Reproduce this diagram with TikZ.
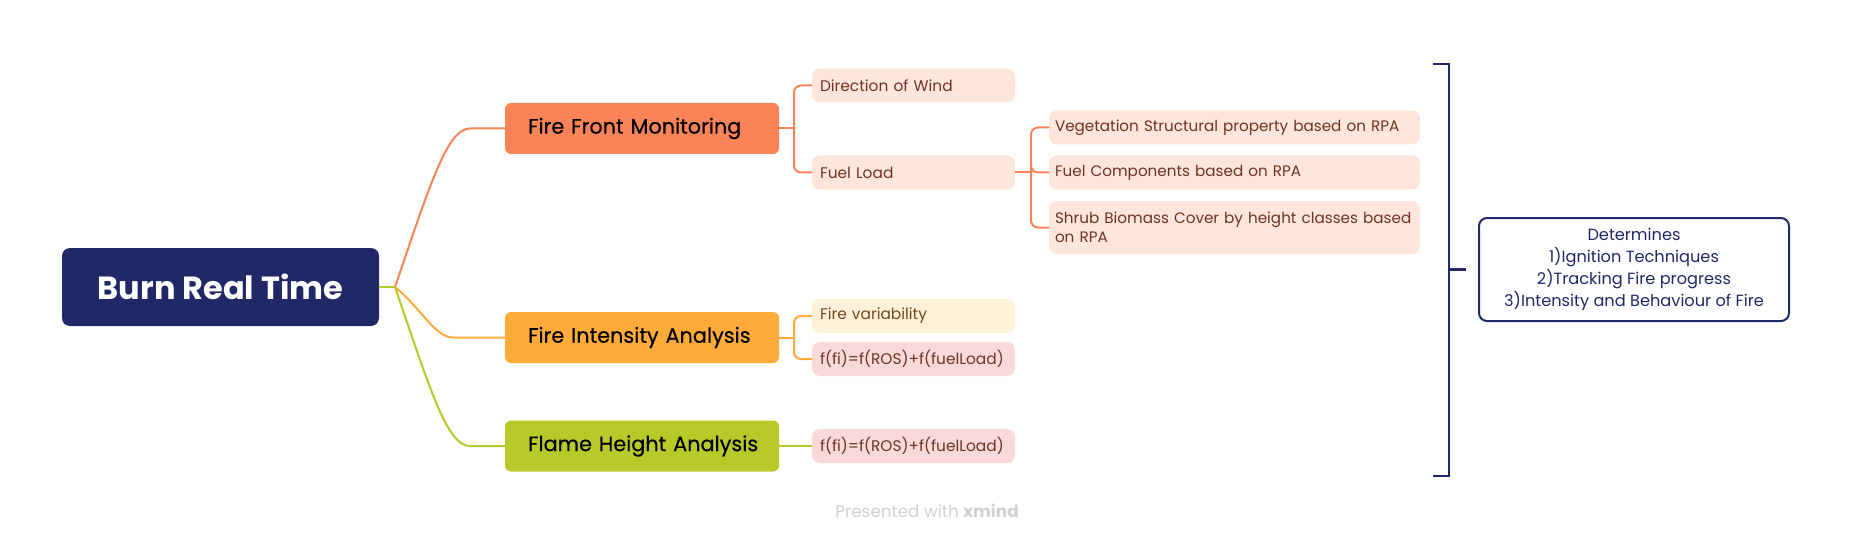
\documentclass[tikz,border=0pt]{standalone}
\usepackage{fontspec}
\setmainfont{Poppins}
\newfontfamily\topicfont{Poppins}[FakeBold=0.35]
\usetikzlibrary{positioning}
\hyphenpenalty=10000

\definecolor{navy}{HTML}{202868}
\definecolor{ffmOrange}{HTML}{FA8357}
\definecolor{fiaOrange}{HTML}{FFAB3A}
\definecolor{fhaGreen}{HTML}{B8C92A}
\definecolor{subPeach}{HTML}{FFE6DC}
\definecolor{subCream}{HTML}{FFF0DA}
\definecolor{subPink}{HTML}{F9D9D9}
\definecolor{subText}{HTML}{6E3323}
\definecolor{creamText}{HTML}{73471A}

\begin{document}
\begin{tikzpicture}[x=0.5pt,y=-0.5pt,
    rootBox/.style={
        fill=navy,
        text=white,
        rounded corners=4pt,
        minimum width=158.5pt,
        minimum height=39pt,
        font=\bfseries\fontsize{16}{19}\selectfont
    },
    topicBox/.style={
        rounded corners=3pt,
        inner xsep=3.5pt,
        text width=130pt,
        align=left,
        minimum height=25.5pt,
        execute at begin node=\hspace*{8pt},
        font=\topicfont\fontsize{10.4}{12}\selectfont
    },
    subBox/.style={
        rounded corners=4pt,
        inner xsep=4pt,
        text width=93.5pt,
        align=left,
        minimum height=17pt,
        text=subText,
        font=\fontsize{7.7}{9.5}\selectfont
    },
    leafBox/.style={
        subBox,
        fill=subPeach,
        inner xsep=3pt,
        text width=179.5pt,
        font=\fontsize{7.6}{9.5}\selectfont
    },
    noteBox/.style={
        draw=navy,
        line width=1pt,
        rounded corners=4pt,
        text=navy,
        align=center,
        minimum width=155pt,
        minimum height=51.5pt,
        font=\fontsize{8.1}{11}\selectfont
    },
    link/.style={
        line width=1pt,
        line cap=round,
        rounded corners=3.5pt
    }
]

\path[use as bounding box] (0,0) rectangle (1853,540);

% central topic and main branches
\node[rootBox] (root) at (220.5,287) {Burn Real Time};
\node[topicBox, fill=ffmOrange] (ffm) at (642,128.5) {Fire Front Monitoring};
\node[topicBox, fill=fiaOrange] (fia) at (642,337.5) {Fire Intensity Analysis};
\node[topicBox, fill=fhaGreen] (fha) at (642,446) {Flame Height Analysis};

% subtopics
\node[subBox, fill=subPeach] (wind) at (913.5,85.5) {Direction of Wind};
\node[subBox, fill=subPeach] (fuel) at (913.5,172.5) {Fuel Load};
\node[leafBox] (veg) at (1234.5,127.5) {Vegetation Structural property based on RPA};
\node[leafBox] (comp) at (1234.5,172.5) {Fuel Components based on RPA};
\node[leafBox, minimum height=26.5pt] (shrub) at (1234.5,227.5)
    {Shrub Biomass Cover by height classes based\\on RPA};
\node[subBox, fill=subCream, text=creamText] (var) at (913.5,316) {Fire variability};
\node[subBox, fill=subPink] (fiA) at (913.5,359) {f(fi)=f(ROS)+f(fuelLoad)};
\node[subBox, fill=subPink] (fiB) at (913.5,446) {f(fi)=f(ROS)+f(fuelLoad)};

% summary
\node[noteBox] (note) at (1634,269.5)
    {Determines\\1)Ignition Techniques\\2)Tracking Fire progress\\3)Intensity and Behaviour of Fire};

\node[text=black!18, font=\fontsize{8.4}{10}\selectfont] (credit) at (927,511)
    {Presented with \textbf{xmind}};

% junctions
\coordinate (hub) at (395,287);
\coordinate (ffmJ) at (794,128.5);
\coordinate (fiaJ) at (794,337.5);
\coordinate (fuelJ) at (1031,172.5);

% root to main topics
\draw[link, fhaGreen] (root.east) -- (hub);
\draw[link, ffmOrange] (hub) .. controls (430,185) and (447,128.5) .. (477,128.5) -- (ffm.west);
\draw[link, fiaOrange] (hub) .. controls (420,307) and (435,337.5) .. (460,337.5) -- (fia.west);
\draw[link, fhaGreen] (hub) .. controls (430,389) and (447,446) .. (477,446) -- (fha.west);

% main topics to subtopics
\draw[link, ffmOrange] (ffm.east) -- (ffmJ);
\foreach \n in {wind,fuel}
    \draw[link, ffmOrange] (\n.west) -| (ffmJ);
\draw[link, ffmOrange] (fuel.east) -- (fuelJ);
\foreach \n in {veg,comp,shrub}
    \draw[link, ffmOrange] (\n.west) -| (fuelJ);
\draw[link, fiaOrange] (fia.east) -- (fiaJ);
\foreach \n in {var,fiA}
    \draw[link, fiaOrange] (\n.west) -| (fiaJ);
\draw[link, fhaGreen] (fha.east) -- (fiB.west);

% summary bracket
\coordinate (brTop) at (1433,64);
\coordinate (brBot) at (1433,476);
\coordinate (brMid) at (1449,269.5);
\coordinate (brTip) at (1466,269.5);
\draw[navy, line width=1.3pt] (brTop) -- ++(16,0) |- (brBot);
\draw[navy, line width=1.3pt] (brMid) -- (brTip);

\end{tikzpicture}
\end{document}
